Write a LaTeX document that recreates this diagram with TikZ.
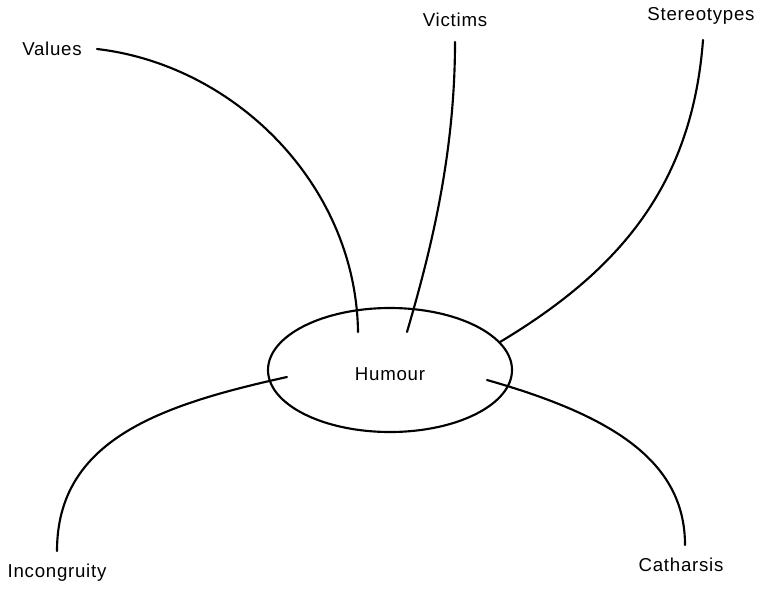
\documentclass[tikz,border=0pt]{standalone}
\usepackage{fontspec}
\setmainfont{Liberation Sans}[LetterSpace=4]
\usetikzlibrary{shapes.geometric}
\begin{document}
\begin{tikzpicture}[x=0.75pt,y=-0.75pt,
  lbl/.style={font=\fontsize{14}{16}\selectfont, inner sep=0pt},
  link/.style={line width=1.6pt, line cap=round}]
\useasboundingbox (0,0) rectangle (762,588);
\draw[line width=1.6pt] (390,370) ellipse [x radius=122, y radius=62];
\node[lbl] (hum) at (390,374) {Humour};
\node[lbl] (val) at (52,49) {Values};
\node[lbl] (vic) at (455,20) {Victims};
\node[lbl] (ste) at (701,16) {Stereotypes};
\node[lbl] (inc) at (57,573) {Incongruity};
\node[lbl] (cat) at (681,565) {Catharsis};
\coordinate (valA) at (97,49);
\coordinate (valB) at (358,332);
\coordinate (vicA) at (455,42);
\coordinate (vicB) at (407,332);
\coordinate (steA) at (703,40);
\coordinate (steB) at (500,342);
\coordinate (incA) at (287,377);
\coordinate (incB) at (57,551);
\coordinate (catA) at (487,380);
\coordinate (catB) at (685,545);
\draw[link] (valA) .. controls (235,65) and (356,185) .. (valB);
\draw[link] (vicA) .. controls (455,160) and (428,260) .. (vicB);
\draw[link] (steA) .. controls (692,185) and (620,270) .. (steB);
\draw[link] (incA) .. controls (160,405) and (57,440) .. (incB);
\draw[link] (catA) .. controls (610,415) and (685,460) .. (catB);
\end{tikzpicture}
\end{document}
